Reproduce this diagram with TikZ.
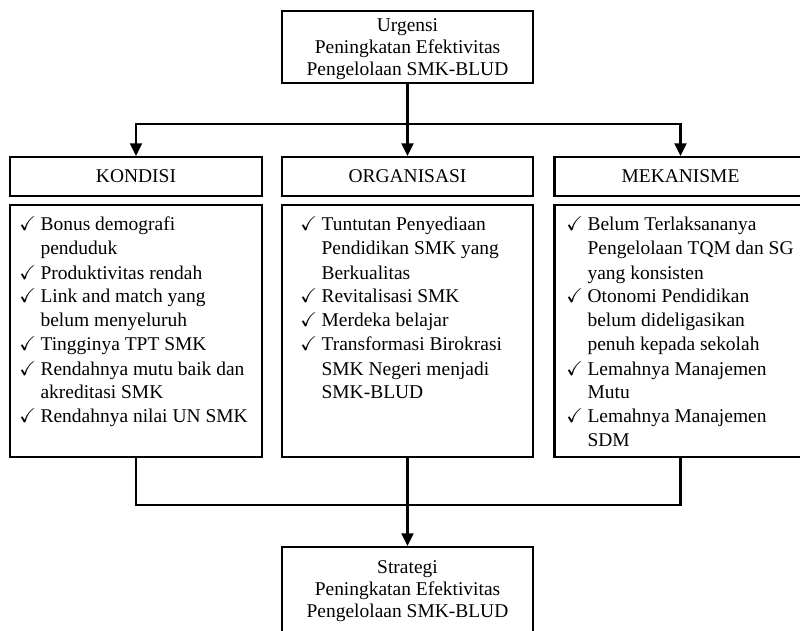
\documentclass[tikz,border=0pt]{standalone}
\usepackage{amssymb}
\usepackage{fontspec}
\setmainfont{Liberation Serif}
\usetikzlibrary{arrows.meta}
\newcommand{\ck}{\makebox[16pt][l]{\fontsize{15pt}{15pt}\selectfont$\checkmark$}}
\begin{document}
\begin{tikzpicture}[x=0.75pt,y=-0.75pt,
  box/.style={draw,line width=1.6pt,rectangle,inner sep=0pt,align=center},
  titlefont/.style={font=\fontsize{14.6pt}{16.2pt}\selectfont},
  titletext/.style={inner sep=0pt,anchor=base},
  listtext/.style={inner sep=0pt,anchor=base west,font=\fontsize{14.6pt}{18pt}\selectfont},
  conn/.style={line width=1.6pt,line join=miter},
  arr/.style={conn,-{Triangle[width=9pt,length=9.5pt]}}]
\useasboundingbox (0,0) rectangle (800,631);
\clip (0,0) rectangle (800,631);
% top box
\node[box,minimum width=188.25pt,minimum height=54pt] (top) at (407.5,47) {};
\node[titletext,font=\fontsize{14.6pt}{16.2pt}\selectfont] (tt) at (407.5,32)
  {\begin{tabular}[t]{@{}c@{}}Urgensi\\Peningkatan Efektivitas\\Pengelolaan SMK-BLUD\end{tabular}};
% headers
\node[box,titlefont,minimum width=189pt,minimum height=29.25pt] (h1) at (136,176.5) {KONDISI};
\node[box,titlefont,minimum width=188.25pt,minimum height=29.25pt] (h2) at (407.5,176.5) {ORGANISASI};
\node[box,titlefont,minimum width=189pt,minimum height=29.25pt] (h3) at (680.5,176.5) {MEKANISME};
% content boxes
\node[box,minimum width=189pt,minimum height=189pt] (c1) at (136,331) {};
\node[box,minimum width=188.25pt,minimum height=189pt] (c2) at (407.5,331) {};
\node[box,minimum width=189pt,minimum height=189pt] (c3) at (680.5,331) {};
% content text
\node[listtext] (t1) at (19,231) {\begin{tabular}[t]{@{}l@{}l@{}}
\ck & Bonus demografi\\
 & penduduk\\
\ck & Produktivitas rendah\\
\ck & Link and match yang\\
 & belum menyeluruh\\
\ck & Tingginya TPT SMK\\
\ck & Rendahnya mutu baik dan\\
 & akreditasi SMK\\
\ck & Rendahnya nilai UN SMK
\end{tabular}};
\node[listtext] (t2) at (300,231) {\begin{tabular}[t]{@{}l@{}l@{}}
\ck & Tuntutan Penyediaan\\
 & Pendidikan SMK yang\\
 & Berkualitas\\
\ck & Revitalisasi SMK\\
\ck & Merdeka belajar\\
\ck & Transformasi Birokrasi\\
 & SMK Negeri menjadi\\
 & SMK-BLUD
\end{tabular}};
\node[listtext] (t3) at (566,231) {\begin{tabular}[t]{@{}l@{}l@{}}
\ck & Belum Terlaksananya\\
 & Pengelolaan TQM dan SG\\
 & yang konsisten\\
\ck & Otonomi Pendidikan\\
 & belum dideligasikan\\
 & penuh kepada sekolah\\
\ck & Lemahnya Manajemen\\
 & Mutu\\
\ck & Lemahnya Manajemen\\
 & SDM
\end{tabular}};
% bottom box
\node[box,minimum width=188.25pt,minimum height=66pt] (bot) at (407.5,591) {};
\node[titletext,font=\fontsize{14.6pt}{16.8pt}\selectfont] (bt) at (407.5,573)
  {\begin{tabular}[t]{@{}c@{}}Strategi\\Peningkatan Efektivitas\\Pengelolaan SMK-BLUD\end{tabular}};
% connectors
\coordinate (j1) at (407.5,124);
\coordinate (j2) at (407.5,505);
\draw[arr] (top.south) -- (h2.north);
\draw[arr] (j1) -| (h1.north);
\draw[arr] (j1) -| (h3.north);
\draw[conn] (c1.south) |- (j2) -| (c3.south);
\draw[arr] (c2.south) -- (bot.north);
\end{tikzpicture}
\end{document}
